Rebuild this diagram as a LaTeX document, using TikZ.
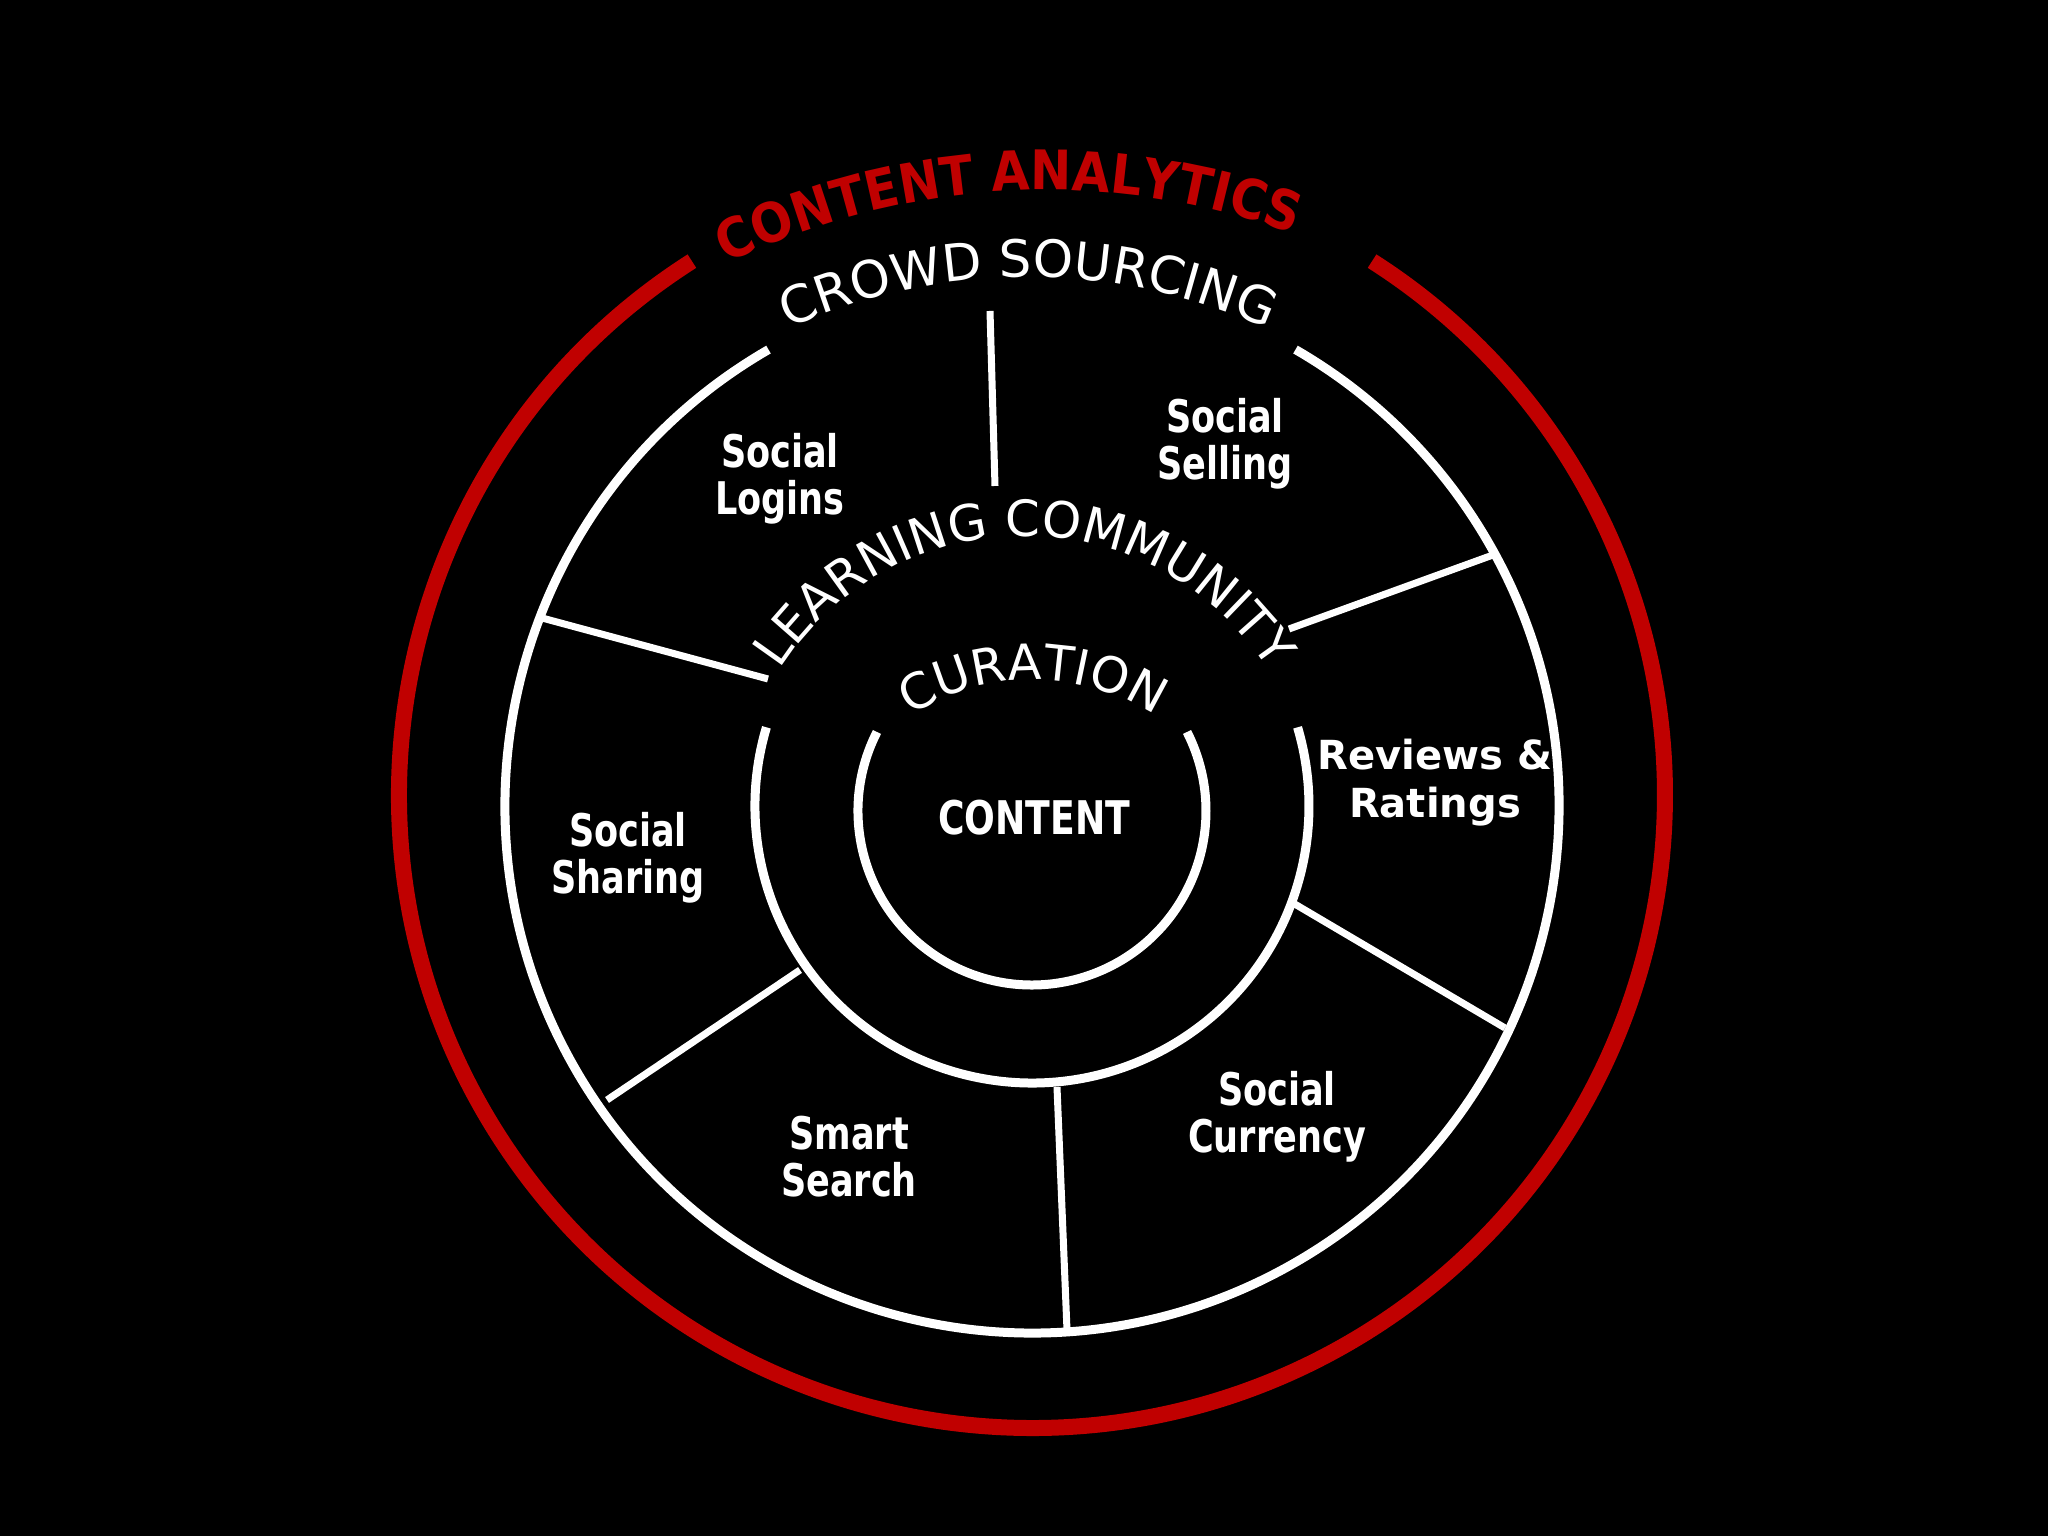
\documentclass[tikz,border=0pt]{standalone}
\usepackage{fontspec}
\setmainfont{DejaVu Sans}
\newfontfamily\lblfamily[FakeStretch=0.78]{DejaVu Sans Bold}
\newfontfamily\arcfamily[FakeStretch=0.9]{DejaVu Sans Bold}
\usepackage{tikz}
\usetikzlibrary{calc, decorations.text}
\definecolor{cRed}{RGB}{192,0,0}
\definecolor{cBg}{RGB}{0,0,0}
\newcommand\ringfont{\fontsize{14.6}{16}\selectfont}
\newcommand\learnfont{\fontsize{14.2}{16}\selectfont}
\newcommand\curafont{\fontsize{14}{16}\selectfont}
\newcommand\arcfont{\arcfamily\fontsize{15.5}{16}\selectfont}
\tikzset{
	ring/.style     ={draw=white, line width=0.09cm},
	redring/.style  ={draw=cRed, line width=0.16cm},
	spoke/.style    ={draw=white, line width=0.07cm},
	seg/.style      ={text=white, align=center, font=\lblfamily\fontsize{12.8}{13.4}\selectfont},
	rev/.style      ={text=white, align=center, font=\bfseries\fontsize{11.4}{13.7}\selectfont},
	ringtext/.style ={decorate, decoration={text along path, text align=center, text color=white}},
}

\begin{document}
\begin{tikzpicture}
	\useasboundingbox (0,0) rectangle (20.48,15.36);
	\fill[cBg] (0,0) rectangle (20.48,15.36);
	\coordinate (O) at (10.32,7.30);
	\coordinate (Or) at (10.32,7.41);
	\coordinate (Oi) at (10.32,7.25);
	% rings
	\draw[redring] ($(Or)+(122.5:6.33)$) arc (122.5:417.5:6.33);
	\draw[ring] ($(O)+(120:5.27)$) arc (120:420:5.27);
	\draw[ring] ($(O)+(163.5:2.77)$) arc (163.5:376.5:2.77);
	\draw[ring] ($(Oi)+(153:1.74)$) arc (153:387:1.74);
	% spokes
	\foreach \ax/\ay/\bx/\by [count=\i] in {-0.37/3.20/-0.42/4.95, 2.57/1.77/4.61/2.51,
			2.61/-0.97/4.73/-2.22, 0.25/-2.81/0.35/-5.24,
			-2.32/-1.64/-4.25/-2.94, -2.64/1.27/-4.90/1.88} {
		\coordinate (s\i in) at ($(O)+(\ax,\ay)$);
		\coordinate (s\i out) at ($(O)+(\bx,\by)$);
		\draw[spoke] (s\i in) -- (s\i out);
	}
	% ring titles
	\path[ringtext, decoration={text={|\arcfont|CONTENT ANALYTICS}, text color=cRed}] ($(10.45,6.26)+(133:7.2)$) arc (133:53:7.2);
	\path[ringtext, decoration={text={|\ringfont|CROWD SOURCING}}] ($(10.28,6.79)+(130:5.8)$) arc (130:50:5.8);
	\path[ringtext, decoration={text={|\learnfont|LEARNING COMMUNITY}}] ($(10.24,7.10)+(175:2.90)$) arc (175:5:2.90);
	\path[ringtext, decoration={text={|\curafont|CURATION}}] ($(10.33,6.31)+(150:2.25)$) arc (150:30:2.25);
	% segments
	\node[seg] (logins) at (7.80,10.57) {Social\\Logins};
	\node[seg] (selling) at (12.25,10.92) {Social\\Selling};
	\node[rev] (reviews) at (14.35,7.53) {Reviews \&\\Ratings};
	\node[seg] (sharing) at (6.28,6.78) {Social\\Sharing};
	\node[seg] (search) at (8.49,3.79) {Smart\\Search};
	\node[seg] (currency) at (12.77,4.19) {Social\\Currency};
	\node[seg, font=\lblfamily\fontsize{13.2}{14}\selectfont] (content) at (10.34,7.18) {CONTENT};
\end{tikzpicture}
\end{document}
